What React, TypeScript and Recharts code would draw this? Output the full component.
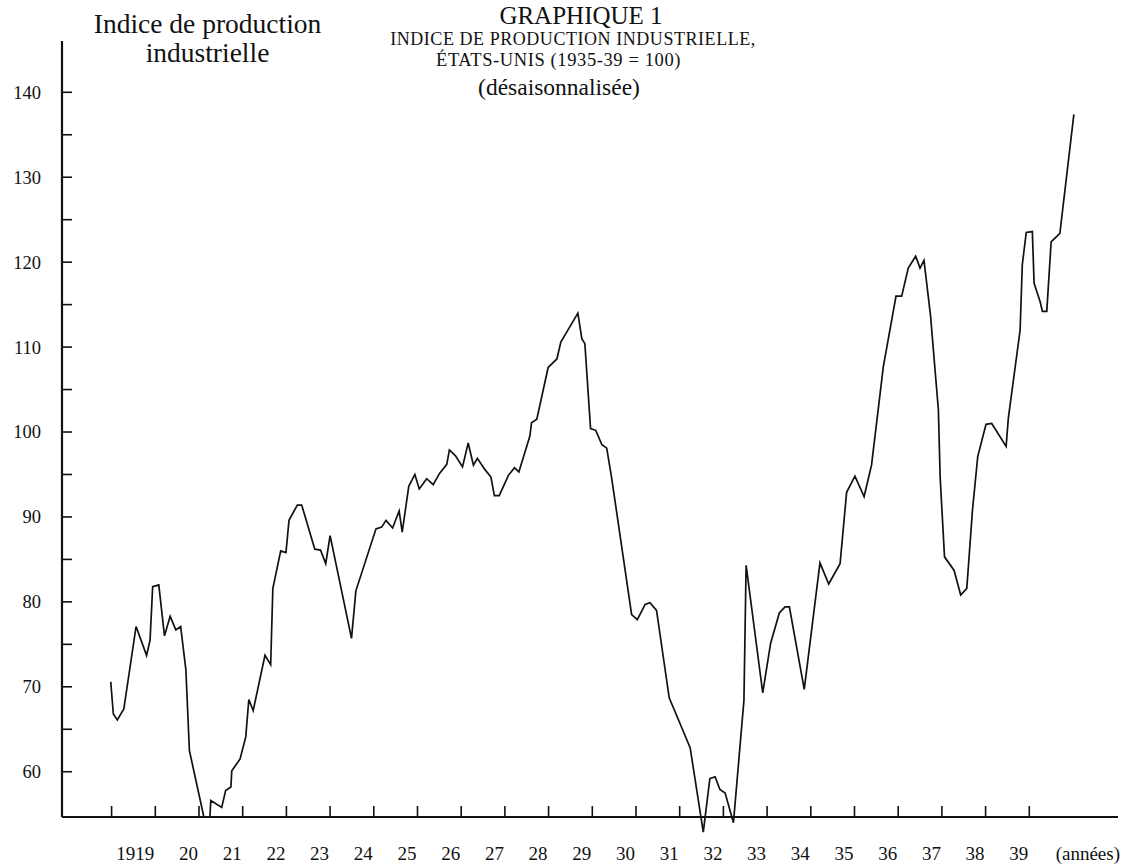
import React from 'react';
import { LineChart, Line, XAxis, YAxis, ReferenceLine } from 'recharts';

// ===== 데이터 : indice de production industrielle, États-Unis (1935-39 = 100) =====
export const periods = [
  1918.98, 1919.04, 1919.13, 1919.28, 1919.56, 1919.80, 1919.88, 1919.94, 1920.08, 1920.21,
  1920.34, 1920.47, 1920.58, 1920.70, 1920.78, 1921.11, 1921.25, 1921.27, 1921.52, 1921.61,
  1921.73, 1921.75, 1921.94, 1922.07, 1922.14, 1922.24, 1922.51, 1922.64, 1922.69, 1922.87,
  1922.99, 1923.06, 1923.25, 1923.35, 1923.65, 1923.78, 1923.90, 1924.00, 1924.49, 1924.59,
  1925.05, 1925.18, 1925.28, 1925.43, 1925.58, 1925.65, 1925.80, 1925.94, 1926.04, 1926.21,
  1926.36, 1926.50, 1926.67, 1926.73, 1926.87, 1927.03, 1927.16, 1927.28, 1927.37, 1927.54,
  1927.68, 1927.76, 1927.87, 1928.08, 1928.22, 1928.32, 1928.57, 1928.61, 1928.73, 1928.99,
  1929.19, 1929.28, 1929.67, 1929.76, 1929.83, 1929.96, 1930.08, 1930.22, 1930.33, 1930.44,
  1930.90, 1931.03, 1931.21, 1931.32, 1931.47, 1931.76, 1932.12, 1932.24, 1932.54, 1932.69,
  1932.81, 1932.92, 1933.04, 1933.23, 1933.47, 1933.52, 1933.90, 1934.08, 1934.28, 1934.41,
  1934.51, 1934.85, 1935.21, 1935.41, 1935.67, 1935.82, 1936.01, 1936.22, 1936.39, 1936.66,
  1936.95, 1937.08, 1937.23, 1937.40, 1937.50, 1937.59, 1937.74, 1937.92, 1937.96, 1938.06,
  1938.28, 1938.43, 1938.57, 1938.70, 1938.82, 1939.01, 1939.14, 1939.47, 1939.52, 1939.79,
  1939.84, 1939.93, 1940.07, 1940.11, 1940.25, 1940.30, 1940.40, 1940.50, 1940.70, 1941.02,
];

export const indexValues = [
  70.6, 66.8, 66.1, 67.4, 77.1, 73.7, 75.5, 81.8, 82.0, 76.0,
  78.3, 76.7, 77.1, 72.0, 62.5, 54.7, 54.7, 56.6, 55.8, 57.8,
  58.2, 60.1, 61.5, 64.1, 68.5, 67.2, 73.7, 72.6, 81.6, 86.0,
  85.8, 89.6, 91.4, 91.4, 86.2, 86.1, 84.5, 87.8, 75.7, 81.3,
  88.6, 88.8, 89.6, 88.7, 90.7, 88.2, 93.6, 95.0, 93.3, 94.5,
  93.8, 95.1, 96.2, 97.9, 97.2, 95.9, 98.7, 96.1, 96.9, 95.6,
  94.7, 92.5, 92.5, 94.9, 95.8, 95.3, 99.5, 101.1, 101.5, 107.6,
  108.6, 110.6, 114.0, 111.0, 110.4, 100.4, 100.2, 98.5, 98.1, 94.7,
  78.5, 77.9, 79.7, 79.9, 79.0, 68.7, 64.3, 62.8, 52.9, 59.2,
  59.4, 57.9, 57.5, 54.0, 68.4, 84.3, 69.3, 75.1, 78.7, 79.4,
  79.4, 69.7, 84.6, 82.1, 84.5, 92.9, 94.8, 92.4, 96.1, 107.7,
  116.0, 116.0, 119.3, 120.7, 119.3, 120.2, 113.7, 102.6, 94.7, 85.3,
  83.7, 80.8, 81.6, 90.8, 97.1, 100.9, 101.0, 98.3, 101.6, 112.0,
  119.7, 123.5, 123.6, 117.5, 115.3, 114.2, 114.2, 122.4, 123.4, 137.4,
];

// 연도 눈금 (1월 위치) 과 그 왼쪽에 붙는 라벨
export const yearTicks = [
  1919, 1920, 1921, 1922, 1923, 1924, 1925, 1926, 1927, 1928, 1929,
  1930, 1931, 1932, 1933, 1934, 1935, 1936, 1937, 1938, 1939, 1940,
];
export const yearLabels = [
  '', '1919', '20', '21', '22', '23', '24', '25', '26', '27', '28',
  '29', '30', '31', '32', '33', '34', '35', '36', '37', '38', '39',
];
export const valueTicks = [60, 65, 70, 75, 80, 85, 90, 95, 100, 105, 110, 115, 120, 125, 130, 135, 140];
export const valueLabels = ['60', '', '70', '', '80', '', '90', '', '100', '', '110', '', '120', '', '130', '', '140'];

const X_MIN = 1917.865;
const X_MAX = 1942.03;
const Y_MIN = 52.55;   // 1932 저점이 축 아래로 내려가도록 여유
const Y_MAX = 146.04;
const AXIS_VALUE = 54.67; // 가로축이 놓이는 값
const AXIS_GAP = 18;      // 플롯 하단 → 가로축 거리(px)

const FONT = '"Liberation Serif", "DejaVu Serif", "Times New Roman", serif';
const INK = '#111';

const rows = periods.map((t, i) => ({ t, v: indexValues[i] }));

const YearTick = (props: any) => {
  const { x, y, payload } = props;
  const i = yearTicks.indexOf(payload.value);
  const ay = y - AXIS_GAP;
  return (
    <g>
      <line x1={x} x2={x} y1={ay} y2={ay - 11} stroke={INK} strokeWidth={1.6} />
      {yearLabels[i] ? (
        <text x={x - 1} y={ay + 43} textAnchor="end" fontFamily={FONT} fontSize={19} fill={INK}>{yearLabels[i]}</text>
      ) : null}
    </g>
  );
};

const ValueTick = (props: any) => {
  const { x, y, payload } = props;
  const i = valueTicks.indexOf(payload.value);
  return (
    <g>
      <line x1={x} x2={x + 10} y1={y} y2={y} stroke={INK} strokeWidth={1.6} />
      {valueLabels[i] ? (
        <text x={x - 21} y={y} dy="0.35em" textAnchor="end" fontFamily={FONT} fontSize={18.5} fill={INK}>{valueLabels[i]}</text>
      ) : null}
    </g>
  );
};

const T: React.FC<{ x: number; y: number; size: number; anchor?: string; spacing?: number; children: React.ReactNode }> = ({ x, y, size, anchor = 'middle', spacing, children }) => (
  <text x={x} y={y} textAnchor={anchor as any} fontFamily={FONT} fontSize={size} letterSpacing={spacing} fill={INK}>{children}</text>
);

export default function App() {
  return (
    <div style={{ position: 'absolute', left: 0, top: 0, width: 1131, height: 865, background: '#fff' }}>
      <LineChart width={1131} height={865} data={rows} margin={{ top: 41, right: 13, left: 0, bottom: 0 }}>
        <XAxis dataKey="t" type="number" domain={[X_MIN, X_MAX]} ticks={yearTicks} interval={0}
          axisLine={false} tickLine={false} tickSize={0} tickMargin={0} height={30} tick={<YearTick />} />
        <YAxis type="number" domain={[Y_MIN, Y_MAX]} ticks={valueTicks} interval={0} width={62}
          axisLine={false} tickLine={false} tickSize={0} tickMargin={0} tick={<ValueTick />} />
        <ReferenceLine y={AXIS_VALUE} stroke={INK} strokeWidth={2} ifOverflow="visible" />
        <ReferenceLine segment={[{ x: X_MIN, y: AXIS_VALUE }, { x: X_MIN, y: Y_MAX }]} stroke={INK} strokeWidth={2.2} ifOverflow="visible" />
        <Line type="linear" dataKey="v" stroke={INK} strokeWidth={1.7} dot={false} activeDot={false} isAnimationActive={false} />
      </LineChart>
      <svg width={1131} height={865} style={{ position: 'absolute', left: 0, top: 0, pointerEvents: 'none' }}>
        <T x={207.5} y={33} size={27.5}>Indice de production</T>
        <T x={207.5} y={61.5} size={27.5}>industrielle</T>
        <T x={581} y={23.5} size={25}>GRAPHIQUE 1</T>
        <T x={573} y={45} size={18} spacing={0.55}>INDICE DE PRODUCTION INDUSTRIELLE,</T>
        <T x={558.5} y={65.5} size={18.5} spacing={0.6}>ÉTATS-UNIS (1935-39 = 100)</T>
        <T x={559} y={95} size={23.5}>(désaisonnalisée)</T>
        <T x={1120} y={860} size={19} anchor="end">(années)</T>
      </svg>
    </div>
  );
}
